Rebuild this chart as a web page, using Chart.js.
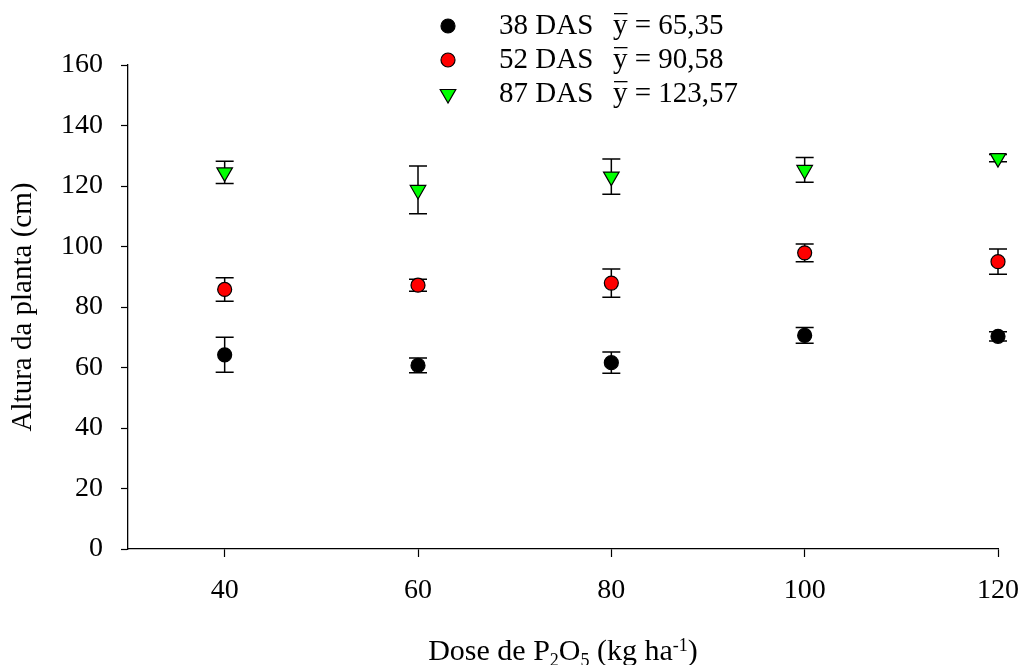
<!DOCTYPE html>
<html>
<head>
<meta charset="utf-8">
<title>Altura da planta</title>
<script src="https://cdn.jsdelivr.net/npm/chart.js@4.4.1/dist/chart.umd.min.js"></script>
<style>
  html, body { margin: 0; padding: 0; background: #fff; }
  #wrap { width: 1021px; height: 665px; position: relative; }
</style>
</head>
<body>
<div id="wrap"><canvas id="chart"></canvas></div>
<script>
'use strict';

// Dose de P2O5 (kg ha-1)
const doses = [40, 60, 80, 100, 120];

// Altura média (cm) e erro por época
const das38 = [64.2, 60.7, 61.6, 70.6, 70.3];
const das38Err = [5.8, 2.4, 3.5, 2.6, 1.5];
const das52 = [85.8, 87.2, 87.9, 97.9, 95.0];
const das52Err = [3.9, 2.0, 4.7, 2.9, 4.2];
const das87 = [124.5, 118.7, 123.1, 125.3, 129.2];
const das87Err = [3.7, 7.9, 5.8, 4.1, 1.2];

const seriesNames = ['38 DAS', '52 DAS', '87 DAS'];
const seriesMeans = ['65,35', '90,58', '123,57'];

const xTicks = [40, 60, 80, 100, 120];
const yTicks = [0, 20, 40, 60, 80, 100, 120, 140, 160];

const FONT = "'Liberation Serif', 'Times New Roman', serif";

function toPoints(values) {
    return doses.map((d, i) => ({ x: d, y: values[i] }));
}

function makeSeries(idx, values, errors, color, style, radius) {
    return {
        label: seriesNames[idx],
        data: toPoints(values),
        errors: errors,
        showLine: false,
        clip: false,
        pointStyle: style,
        pointRadius: radius,
        pointHoverRadius: radius,
        pointRotation: style === 'triangle' ? 180 : 0,
        pointBackgroundColor: color,
        pointBorderColor: '#000',
        pointBorderWidth: 1.2,
        backgroundColor: color,
        borderColor: '#000'
    };
}

// error bars go under the markers
const errorBars = {
    id: 'errorBars',
    beforeDatasetsDraw(chart) {
        const ctx = chart.ctx;
        const yScale = chart.scales.y;
        const cap = 9;
        ctx.save();
        ctx.strokeStyle = '#000';
        ctx.lineWidth = 1.5;
        chart.data.datasets.forEach((ds, i) => {
            const meta = chart.getDatasetMeta(i);
            meta.data.forEach((pt, j) => {
                const v = ds.data[j].y;
                const e = ds.errors[j];
                const top = yScale.getPixelForValue(v + e);
                const bot = yScale.getPixelForValue(v - e);
                ctx.beginPath();
                ctx.moveTo(pt.x, top);
                ctx.lineTo(pt.x, bot);
                ctx.moveTo(pt.x - cap, top);
                ctx.lineTo(pt.x + cap, top);
                ctx.moveTo(pt.x - cap, bot);
                ctx.lineTo(pt.x + cap, bot);
                ctx.stroke();
            });
        });
        ctx.restore();
    }
};

// legend with mean values (y with overline)
const meanLegend = {
    id: 'meanLegend',
    afterDraw(chart) {
        const ctx = chart.ctx;
        const x0 = 448;
        const rowH = 34;
        const y0 = 26;
        ctx.save();
        ctx.font = '29px ' + FONT;
        ctx.fillStyle = '#000';
        ctx.textBaseline = 'middle';
        ctx.textAlign = 'left';
        chart.data.datasets.forEach((ds, i) => {
            const y = y0 + i * rowH;
            ctx.save();
            ctx.fillStyle = ds.pointBackgroundColor;
            ctx.strokeStyle = '#000';
            ctx.lineWidth = ds.pointBorderWidth;
            Chart.helpers.drawPoint(ctx, {
                pointStyle: ds.pointStyle,
                radius: ds.pointRadius,
                rotation: ds.pointRotation,
                borderWidth: ds.pointBorderWidth
            }, x0, y);
            ctx.restore();

            ctx.fillText(seriesNames[i], x0 + 51, y);
            const yx = x0 + 165;
            ctx.fillText('y', yx, y);
            const w = ctx.measureText('y').width;
            ctx.fillRect(yx + 1, y - 13, w - 1, 1.3);
            ctx.fillText(' = ' + seriesMeans[i], yx + w, y);
        });
        ctx.restore();
    }
};

// x title with sub/superscripts
const xTitle = {
    id: 'xTitle',
    afterDraw(chart) {
        const ctx = chart.ctx;
        const area = chart.chartArea;
        const parts = [
            { t: 'Dose de P', s: 0 },
            { t: '2', s: 1 },
            { t: 'O', s: 0 },
            { t: '5', s: 1 },
            { t: ' (kg ha', s: 0 },
            { t: '-1', s: -1 },
            { t: ')', s: 0 }
        ];
        const big = '30px ' + FONT;
        const small = '18px ' + FONT;
        ctx.save();
        ctx.fillStyle = '#000';
        ctx.textBaseline = 'alphabetic';
        ctx.textAlign = 'left';
        let total = 0;
        parts.forEach(p => {
            ctx.font = p.s === 0 ? big : small;
            p.w = ctx.measureText(p.t).width;
            total += p.w;
        });
        let x = (area.left + area.right) / 2 - total / 2;
        const base = area.bottom + 111;
        parts.forEach(p => {
            ctx.font = p.s === 0 ? big : small;
            const dy = p.s === 1 ? 6 : (p.s === -1 ? -9 : 0);
            ctx.fillText(p.t, x, base + dy);
            x += p.w;
        });
        ctx.restore();
    }
};

const ctx = document.getElementById('chart').getContext('2d');
const chart = new Chart(ctx, {
    type: 'scatter',
    data: {
        datasets: [
            makeSeries(0, das38, das38Err, '#000000', 'circle', 7),
            makeSeries(1, das52, das52Err, '#ff0000', 'circle', 7),
            makeSeries(2, das87, das87Err, '#00ff00', 'triangle', 9)
        ]
    },
    options: {
        responsive: true,
        maintainAspectRatio: false,
        devicePixelRatio: 1,
        animation: false,
        events: [],
        layout: {
            padding: { left: 0, top: 65, right: 23, bottom: 0 }
        },
        plugins: {
            legend: { display: false },
            tooltip: { enabled: false }
        },
        scales: {
            x: {
                type: 'linear',
                min: 30,
                max: 120,
                afterBuildTicks: (scale) => {
                    scale.ticks = xTicks.map(v => ({ value: v }));
                },
                afterFit: (scale) => {
                    scale.height = 116;
                    scale.paddingLeft = 0;
                    scale.paddingRight = 0;
                },
                grid: {
                    drawOnChartArea: false,
                    drawTicks: true,
                    tickLength: 8,
                    tickColor: '#000',
                    tickWidth: 1.2
                },
                border: { display: true, color: '#000', width: 1.3 },
                ticks: {
                    color: '#000',
                    padding: 17,
                    maxRotation: 0,
                    font: { family: FONT, size: 28 }
                }
            },
            y: {
                type: 'linear',
                min: 0,
                max: 160,
                afterBuildTicks: (scale) => {
                    scale.ticks = yTicks.map(v => ({ value: v }));
                },
                afterFit: (scale) => {
                    scale.width = 128;
                },
                grid: {
                    drawOnChartArea: false,
                    drawTicks: true,
                    tickLength: 7,
                    tickColor: '#000',
                    tickWidth: 1.2
                },
                border: { display: true, color: '#000', width: 1.3 },
                ticks: {
                    color: '#000',
                    padding: 18,
                    font: { family: FONT, size: 28 }
                },
                title: {
                    display: true,
                    text: 'Altura da planta (cm)',
                    color: '#000',
                    padding: { top: 6, bottom: 0 },
                    font: { family: FONT, size: 29, weight: 'normal' }
                }
            }
        }
    },
    plugins: [errorBars, meanLegend, xTitle]
});
</script>
</body>
</html>
